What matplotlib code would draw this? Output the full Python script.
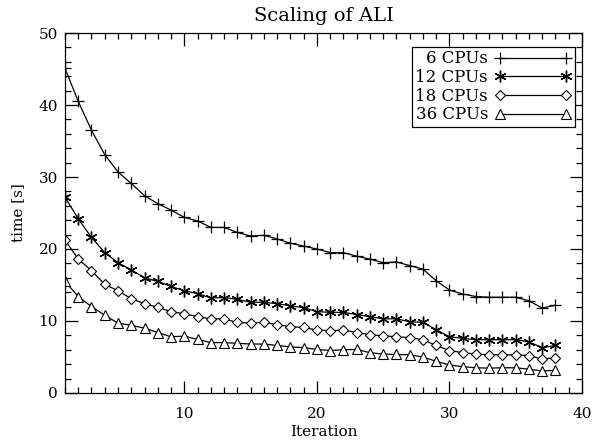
import numpy as np
import matplotlib.pyplot as plt
from matplotlib.ticker import MultipleLocator

iteration = list(range(1, 39))

cpu6 = [45.1, 40.5, 36.5, 33.1, 30.7, 29.1, 27.4, 26.3, 25.4, 24.4,
        23.9, 23.0, 23.0, 22.3, 21.8, 21.9, 21.4, 20.8, 20.4, 20.0,
        19.5, 19.5, 19.0, 18.6, 18.1, 18.2, 17.7, 17.2, 15.6, 14.3,
        13.75, 13.4, 13.3, 13.3, 13.3, 12.8, 11.8, 12.2]
cpu12 = [27.2, 24.2, 21.6, 19.5, 18.1, 17.1, 16.0, 15.5, 14.8, 14.2,
         13.8, 13.2, 13.25, 13.0, 12.6, 12.6, 12.4, 12.1, 11.85, 11.3,
         11.2, 11.2, 10.9, 10.6, 10.3, 10.3, 9.9, 9.8, 8.8, 7.8,
         7.6, 7.4, 7.4, 7.4, 7.4, 7.1, 6.3, 6.6]
cpu18 = [21.25, 18.6, 17.0, 15.1, 14.2, 13.1, 12.4, 11.9, 11.3, 11.0,
         10.6, 10.3, 10.3, 9.8, 9.7, 9.8, 9.5, 9.2, 9.1, 8.75,
         8.65, 8.75, 8.4, 8.1, 7.95, 7.8, 7.7, 7.4, 6.6, 5.9,
         5.6, 5.4, 5.3, 5.3, 5.3, 5.2, 4.7, 4.9]
cpu36 = [15.5, 13.4, 12.0, 10.8, 9.7, 9.4, 9.0, 8.4, 7.8, 7.9,
         7.45, 7.0, 7.0, 6.9, 6.8, 6.8, 6.6, 6.4, 6.3, 6.05,
         5.9, 6.0, 6.05, 5.6, 5.4, 5.35, 5.3, 5.0, 4.4, 3.9,
         3.65, 3.5, 3.45, 3.5, 3.5, 3.3, 3.05, 3.15]

plt.rcParams['font.family'] = 'DejaVu Serif'

fig = plt.figure(figsize=(5.95, 4.45), dpi=100)
ax = fig.add_axes([0.1092, 0.1169, 0.8689, 0.8089])

asterisk = (6, 2, 0)
ax.plot(iteration, cpu6, color='black', lw=0.9, marker='+', ms=8,
        mew=0.9, label='6 CPUs')
ax.plot(iteration, cpu12, color='black', lw=0.9, marker=asterisk, ms=8.5,
        mew=1.0, label='12 CPUs')
ax.plot(iteration, cpu18, color='black', lw=0.9, marker='D', ms=5.5,
        mfc='white', mew=0.8, label='18 CPUs')
ax.plot(iteration, cpu36, color='black', lw=0.9, marker='^', ms=7,
        mfc='white', mew=0.8, label='36 CPUs')

ax.set_xlim(1, 40)
ax.set_ylim(0, 50)
ax.xaxis.set_major_locator(MultipleLocator(10))
ax.xaxis.set_minor_locator(MultipleLocator(1))
ax.yaxis.set_major_locator(MultipleLocator(10))
ax.yaxis.set_minor_locator(MultipleLocator(2))
ax.tick_params(which='both', direction='in', top=True, right=True,
               labelsize=11, width=0.9)
ax.tick_params(which='major', length=9)
ax.tick_params(which='minor', length=4.5)
ax.tick_params(axis='x', which='major', pad=10)
ax.tick_params(axis='y', which='major', pad=5)
for s in ax.spines.values():
    s.set_linewidth(0.9)

ax.set_title('Scaling of ALI', fontsize=14, pad=9)
ax.set_xlabel('Iteration', fontsize=11, labelpad=3)
ax.set_ylabel('time [s]', fontsize=11, labelpad=10)

leg = ax.legend(loc='upper right', bbox_to_anchor=(0.986, 0.961),
                markerfirst=False, numpoints=2, handlelength=4.6,
                fontsize=12, frameon=True, fancybox=False, edgecolor='black',
                framealpha=1, borderpad=0.2, labelspacing=0.1,
                handletextpad=0.4, borderaxespad=0)
leg.get_frame().set_linewidth(0.9)

fig.savefig('out.png', dpi=100)
